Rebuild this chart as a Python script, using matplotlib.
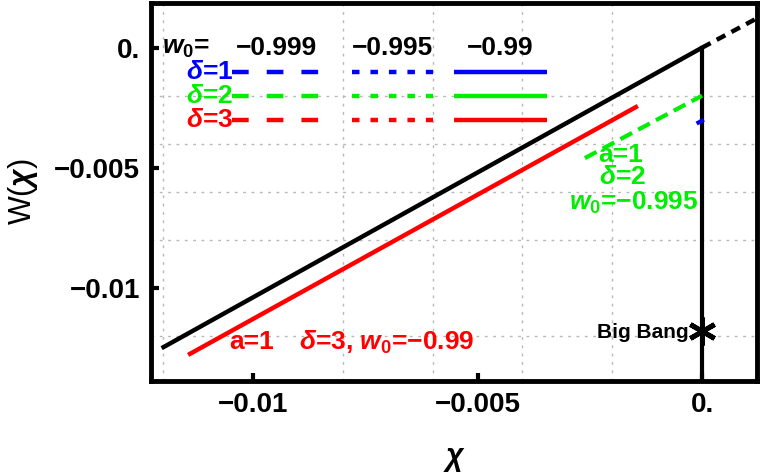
import matplotlib
matplotlib.use("Agg")
import matplotlib.pyplot as plt
from matplotlib.ticker import MultipleLocator

# fonts - bold helvetica like look, mathtext for the greek letters and w_0
plt.rcParams['font.family'] = ['Liberation Sans', 'DejaVu Sans']
plt.rcParams['font.weight'] = 'bold'
plt.rcParams['mathtext.fontset'] = 'custom'
plt.rcParams['mathtext.rm'] = 'Liberation Sans:bold'
plt.rcParams['mathtext.it'] = 'Liberation Sans:italic:bold'
plt.rcParams['mathtext.bf'] = 'Liberation Sans:bold'
plt.rcParams['lines.scale_dashes'] = False

MINUS = "\u2212"

# the curves
chi_black = [-0.01204, 0.0]
w_black = [-0.01252, 0.0]
chi_black_ext = [0.0, 0.0013]
w_black_ext = [0.0, 0.0013]
chi_red = [-0.01145, -0.00143]
w_red = [-0.0128, -0.00243]
chi_green = [-0.00261, 0.0]
w_green = [-0.0046, -0.002]
chi_blue = [-0.00008, 0.0]
w_blue = [-0.00312, -0.00304]
chi_bigbang = [0.0, 0.0]
w_bigbang = [0.0, -0.0145]
star_chi = 0.0
star_w = -0.0118

# legend table
w0_values = [MINUS + "0.999", MINUS + "0.995", MINUS + "0.99"]
deltas = [1, 2, 3]
delta_colors = ['#0000ff', '#00ee00', '#ff0000']
delta_rows = [-0.001, -0.002, -0.003]
sample_x = [[-0.01047, -0.00849], [-0.0078, -0.006], [-0.00553, -0.00345]]
sample_dashes = [(12, 13), (5.4, 7.9), None]

xticks = [-0.01, -0.005, 0.0]
xticklabels = [MINUS + "0.01", MINUS + "0.005", "0."]
yticks = [0.0, -0.005, -0.01]
yticklabels = ["0.", MINUS + "0.005", MINUS + "0.01"]

fig = plt.figure(figsize=(7.63, 4.76), dpi=100)
ax = fig.add_axes([151/763, 95/476, 606/763, 378/476])

green = delta_colors[1]
fs = 19

ax.plot(chi_black, w_black, color='black', lw=3.2, solid_capstyle='butt', zorder=4)
ax.plot(chi_black_ext, w_black_ext, color='black', lw=3.2, dashes=(7, 5), zorder=4)
ax.plot(chi_bigbang, w_bigbang, color='black', lw=3, zorder=4)
ax.plot(chi_red, w_red, color='#ff0000', lw=3.2, solid_capstyle='butt', zorder=4)
ax.plot(chi_green, w_green, color=green, lw=3, dashes=(9.5, 5), zorder=4)
ax.plot(chi_blue, w_blue, color='#0000ff', lw=3, zorder=4)
ax.plot([star_chi], [star_w], marker=(6, 2, 0), markersize=20, mew=3.5,
        color='black', zorder=5, clip_on=False)

# legend drawn by hand inside the frame
ax.text(-0.0115, 0.0, r"$w_0$=", fontsize=fs, ha='center', va='center', zorder=6)
for i in range(3):
    ax.text((sample_x[i][0] + sample_x[i][1]) / 2, 0.0, w0_values[i],
            fontsize=fs, ha='center', va='center', zorder=6)
for d, col, yy in zip(deltas, delta_colors, delta_rows):
    ax.text(-0.01045, yy, r"$\delta$=" + str(d), fontsize=fs, color=col,
            ha='right', va='center', zorder=6)
    for xs, ds in zip(sample_x, sample_dashes):
        if ds is None:
            ax.plot(xs, [yy, yy], color=col, lw=3.2, solid_capstyle='butt', zorder=5)
        else:
            ax.plot(xs, [yy, yy], color=col, lw=3.2, dashes=ds, zorder=5)

# annotations
ax.text(-0.00182, -0.00448, "a=1", fontsize=fs, color=green, ha='center', va='center')
ax.text(-0.00178, -0.00538, r"$\delta$=2", fontsize=fs, color=green, ha='center', va='center')
ax.text(-0.00153, -0.00648, r"$w_0$=" + MINUS + "0.995", fontsize=fs, color=green,
        ha='center', va='center')
ax.text(-0.01003, -0.01226, "a=1", fontsize=fs, color='#ff0000', ha='center', va='center')
ax.text(-0.00703, -0.01226, r"$\delta$=3, $w_0$=" + MINUS + "0.99", fontsize=fs,
        color='#ff0000', ha='center', va='center')
ax.text(-0.0003, -0.01186, "Big Bang", fontsize=15, ha='right', va='center')

ax.set_xlim(-0.012277, 0.001225)
ax.set_ylim(-0.013888, 0.001862)

ax.set_xticks(xticks)
ax.set_xticklabels(xticklabels)
ax.set_yticks(yticks)
ax.set_yticklabels(yticklabels)
ax.tick_params(which='major', direction='in', length=6, width=3, labelsize=20, pad=8,
               top=False, right=False)

# dotted grid every 0.002
ax.xaxis.set_minor_locator(MultipleLocator(0.002))
ax.yaxis.set_minor_locator(MultipleLocator(0.002))
ax.tick_params(which='minor', length=0)
ax.grid(which='minor', color='#b8b8b8', lw=1, dashes=(2, 4))
ax.grid(which='major', visible=False)

for s in ax.spines.values():
    s.set_linewidth(3.5)

ax.set_xlabel(r"$\chi$", fontsize=22, labelpad=19)
ax.set_ylabel(r"W($\chi$)", fontsize=22, labelpad=10)

fig.savefig("out.png", dpi=100)
